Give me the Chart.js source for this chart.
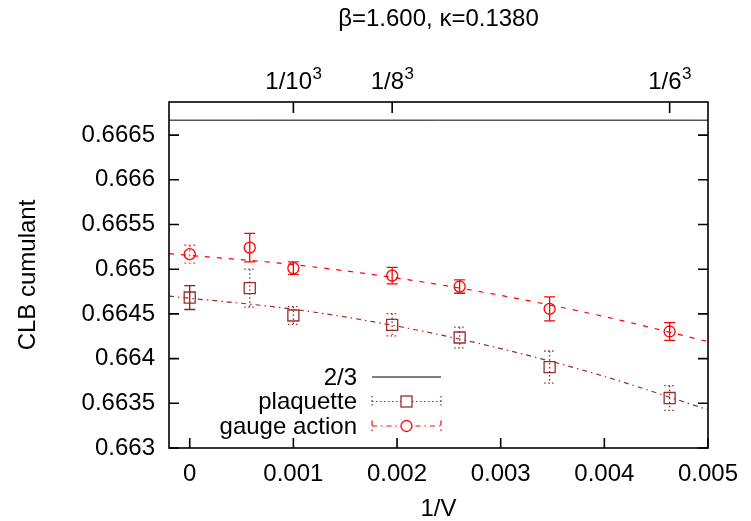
<!DOCTYPE html>
<html>
<head>
<meta charset="utf-8">
<script src="https://cdn.jsdelivr.net/npm/chart.js@4/dist/chart.umd.min.js"></script>
<style>
  body { margin: 0; background: #fff; }
  canvas { display: block; }
</style>
</head>
<body>
<canvas id="clb" width="751" height="521"></canvas>
<script>
// 1/V for the lattices (extrapolated, 12^3, 10^3, 8^3, 6x8x8, 6x6x8, 6^3)
const volX = [0, 0.000579, 0.001, 0.001953, 0.002604, 0.003472, 0.00463];

const plaqY = [0.664683, 0.664788, 0.664482, 0.664378, 0.664236, 0.663905, 0.663559];
const plaqErr = [0.000134, 0.000212, 0.0001, 0.000125, 0.000115, 0.00018, 0.000138];

const gaugeY = [0.665168, 0.665241, 0.665011, 0.664928, 0.664806, 0.664556, 0.664303];
const gaugeErr = [0.0001, 0.00016, 0.00007, 0.000093, 0.000075, 0.000134, 0.0001];

// fit curves
const fitX = [-0.0002, 0.001, 0.002, 0.003, 0.004, 0.005];
const plaqFit = [0.664698, 0.664552, 0.664363, 0.664112, 0.663801, 0.663428];
const gaugeFit = [0.665174, 0.665051, 0.664901, 0.664707, 0.66447, 0.66419];

const twoThirdsX = [-0.0002, 0.005];
const twoThirdsY = [0.6666667, 0.6666667];

// top axis: lattice sizes, label base + exponent
const topTicks = [0.001, 0.001953, 0.00463];
const topLabels = ["1/10", "1/8", "1/6"];
const topExp = ["3", "3", "3"];

const PLAQ = "#9c2c2c";
const GAUGE = "#ff0000";
const FAMILY = "'Liberation Sans', Arial, sans-serif";
const FONT = { family: FAMILY, size: 24 };

function pts(xs, ys) {
  return xs.map((x, i) => ({ x: x, y: ys[i] }));
}

function fmt(v) {
  return String(+Number(v).toFixed(6));
}

// vertical error bars with small caps
const errorBars = {
  id: "errorBars",
  afterDatasetsDraw(chart) {
    const ctx = chart.ctx;
    const xs = chart.scales.x, ys = chart.scales.y;
    chart.data.datasets.forEach(ds => {
      if (!ds.errors) return;
      ds.data.forEach((p, i) => {
        const px = xs.getPixelForValue(p.x);
        const t = ys.getPixelForValue(p.y + ds.errors[i]);
        const b = ys.getPixelForValue(p.y - ds.errors[i]);
        ctx.save();
        ctx.strokeStyle = i === 0 ? ds.errColorFirst : ds.borderColor;
        ctx.lineWidth = 1.3;
        ctx.setLineDash(i === 0 ? ds.errDashFirst : ds.errDash);
        ctx.beginPath();
        ctx.moveTo(px, t); ctx.lineTo(px, b);
        ctx.moveTo(px - 5.5, t); ctx.lineTo(px + 5.5, t);
        ctx.moveTo(px - 5.5, b); ctx.lineTo(px + 5.5, b);
        ctx.stroke();
        ctx.restore();
      });
    });
  }
};

// gnuplot style frame with inward ticks, plus the top labels with exponents
const frame = {
  id: "frame",
  afterDraw(chart) {
    const ctx = chart.ctx, a = chart.chartArea, s = chart.scales;
    ctx.save();
    ctx.strokeStyle = "#000";
    ctx.lineWidth = 1.6;
    ctx.setLineDash([]);
    ctx.strokeRect(a.left, a.top, a.right - a.left, a.bottom - a.top);
    ctx.beginPath();
    s.x.ticks.forEach(t => {
      const px = s.x.getPixelForValue(t.value);
      ctx.moveTo(px, a.bottom); ctx.lineTo(px, a.bottom - 10);
    });
    s.x2.ticks.forEach(t => {
      const px = s.x2.getPixelForValue(t.value);
      ctx.moveTo(px, a.top); ctx.lineTo(px, a.top + 11);
    });
    s.y.ticks.forEach(t => {
      const py = s.y.getPixelForValue(t.value);
      ctx.moveTo(a.left, py); ctx.lineTo(a.left + 10, py);
      ctx.moveTo(a.right, py); ctx.lineTo(a.right - 10, py);
    });
    ctx.stroke();

    ctx.fillStyle = "#000";
    ctx.textAlign = "left";
    ctx.textBaseline = "alphabetic";
    topTicks.forEach((v, i) => {
      const px = s.x2.getPixelForValue(v);
      ctx.font = "24px " + FAMILY;
      const wb = ctx.measureText(topLabels[i]).width;
      ctx.font = "17px " + FAMILY;
      const we = ctx.measureText(topExp[i]).width;
      const x0 = px - (wb + we) / 2;
      const y0 = a.top - 13;
      ctx.font = "24px " + FAMILY;
      ctx.fillText(topLabels[i], x0, y0);
      ctx.font = "17px " + FAMILY;
      ctx.fillText(topExp[i], x0 + wb + 0.5, y0 - 10);
    });
    ctx.restore();
  }
};

// key inside the plot: text right aligned, sample on the right
const key = {
  id: "key",
  afterDraw(chart) {
    const ctx = chart.ctx, a = chart.chartArea;
    const tx = a.left + 188, x0 = a.left + 203, x1 = a.left + 272, xm = (x0 + x1) / 2;
    let y = a.top + 275;
    ctx.save();
    ctx.font = FONT.size + "px " + FAMILY;
    ctx.fillStyle = "#000";
    ctx.textAlign = "right";
    ctx.textBaseline = "middle";

    chart.data.datasets.forEach(ds => {
      if (!ds.keyLine) return;
      ctx.fillText(ds.label, tx, y + 1);
      ctx.strokeStyle = ds.borderColor;
      ctx.lineWidth = ds.keyLine.width;
      ctx.setLineDash(ds.keyLine.dash);
      ctx.beginPath();
      ctx.moveTo(x0, y); ctx.lineTo(x1, y);
      if (ds.keyLine.caps) {
        ctx.moveTo(x0, y - 5.5); ctx.lineTo(x0, y + 5.5);
        ctx.moveTo(x1, y - 5.5); ctx.lineTo(x1, y + 5.5);
      }
      ctx.stroke();
      ctx.setLineDash([]);
      ctx.lineWidth = 1.3;
      if (ds.pointStyle === "rect") {
        ctx.fillStyle = "#fff";
        ctx.fillRect(xm - 5.5, y - 5.5, 11, 11);
        ctx.strokeRect(xm - 5.5, y - 5.5, 11, 11);
        ctx.fillStyle = "#000";
      } else if (ds.pointStyle === "circle") {
        ctx.fillStyle = "#fff";
        ctx.beginPath();
        ctx.arc(xm, y, 5.5, 0, Math.PI * 2);
        ctx.fill();
        ctx.stroke();
        ctx.fillStyle = "#000";
      }
      y += 24.5;
    });
    ctx.restore();
  }
};

const config = {
  type: "scatter",
  data: {
    datasets: [
      {
        label: "2/3",
        data: pts(twoThirdsX, twoThirdsY),
        showLine: true,
        borderColor: "#000",
        borderWidth: 1,
        pointRadius: 0,
        keyLine: { dash: [], width: 1.2, caps: false },
      },
      {
        label: "plaquette",
        data: pts(volX, plaqY),
        errors: plaqErr,
        errDash: [1.5, 2.5],
        errDashFirst: [],
        errColorFirst: "#8b2020",
        showLine: false,
        pointStyle: "rect",
        pointRadius: 7.8,
        pointBorderWidth: 1.3,
        borderColor: PLAQ,
        backgroundColor: "rgba(0,0,0,0)",
        keyLine: { dash: [1.5, 2.5], width: 1.2, caps: true },
      },
      {
        label: "gauge action",
        data: pts(volX, gaugeY),
        errors: gaugeErr,
        errDash: [],
        errDashFirst: [2, 2.5],
        errColorFirst: "#ff5050",
        showLine: false,
        pointStyle: "circle",
        pointRadius: 5.5,
        pointBorderWidth: 1.3,
        borderColor: GAUGE,
        backgroundColor: "rgba(0,0,0,0)",
        keyLine: { dash: [5, 4, 1.5, 4], width: 1.2, caps: true },
      },
      {
        label: "plaquette fit",
        data: pts(fitX, plaqFit),
        showLine: true,
        borderColor: PLAQ,
        borderWidth: 1.2,
        borderDash: [5, 4, 1.5, 4],
        pointRadius: 0,
        cubicInterpolationMode: "monotone",
      },
      {
        label: "gauge fit",
        data: pts(fitX, gaugeFit),
        showLine: true,
        borderColor: GAUGE,
        borderWidth: 1.2,
        borderDash: [5, 7],
        pointRadius: 0,
        cubicInterpolationMode: "monotone",
      },
    ],
  },
  options: {
    responsive: false,
    animation: false,
    devicePixelRatio: 1,
    layout: { padding: { left: 0, right: 43, top: 0, bottom: 0 } },
    plugins: {
      legend: { display: false },
      tooltip: { enabled: false },
      title: {
        display: true,
        text: "\u03b2=1.600, \u03ba=0.1380",
        color: "#000",
        font: Object.assign({ weight: "normal", lineHeight: 1.2 }, FONT),
        padding: { top: 5, bottom: 0 },
        fullSize: false,
      },
    },
    scales: {
      x: {
        type: "linear",
        position: "bottom",
        min: -0.0002,
        max: 0.005,
        grid: { display: false, drawTicks: false },
        border: { display: false },
        ticks: {
          stepSize: 0.001,
          includeBounds: false,
          maxRotation: 0,
          padding: 11.5,
          color: "#000",
          font: FONT,
          callback: v => fmt(v),
        },
        title: {
          display: true,
          text: "1/V",
          color: "#000",
          font: Object.assign({ lineHeight: 1 }, FONT),
          padding: { top: 0, bottom: 0 },
        },
        afterFit: s => { s.height = 73; },
      },
      x2: {
        type: "linear",
        position: "top",
        min: -0.0002,
        max: 0.005,
        grid: { display: false, drawTicks: false },
        border: { display: false },
        afterBuildTicks: s => { s.ticks = topTicks.map(v => ({ value: v })); },
        ticks: { display: false },
        afterFit: s => { s.height = 68.2; },
      },
      y: {
        type: "linear",
        min: 0.663,
        max: 0.66687,
        grid: { display: false, drawTicks: false },
        border: { display: false },
        ticks: {
          stepSize: 0.0005,
          includeBounds: false,
          padding: 14,
          color: "#000",
          font: FONT,
          callback: v => fmt(v),
        },
        title: {
          display: true,
          text: "CLB cumulant",
          color: "#000",
          font: Object.assign({ lineHeight: 1.2 }, FONT),
          padding: { top: 14, bottom: 0 },
        },
        afterFit: s => { s.width = 169; },
      },
    },
  },
  plugins: [errorBars, frame, key],
};

new Chart(document.getElementById("clb"), config);
</script>
</body>
</html>
